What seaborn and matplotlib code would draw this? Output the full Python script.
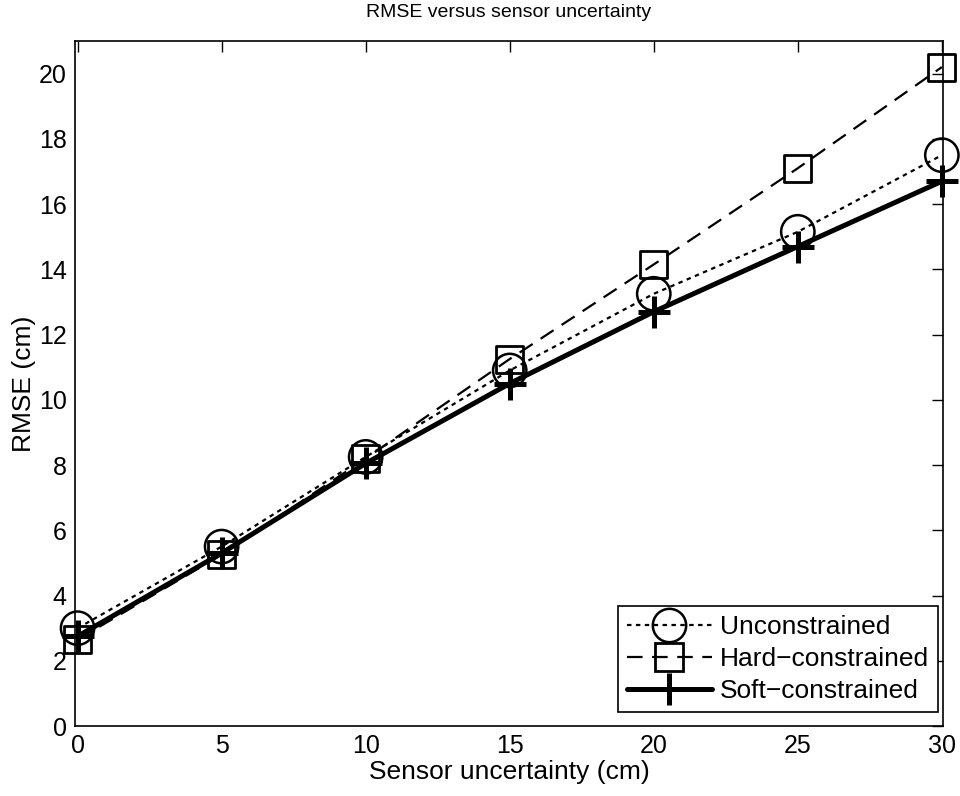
import matplotlib
matplotlib.use("Agg")
import matplotlib.pyplot as plt
from matplotlib.lines import Line2D
import seaborn as sns
import pandas as pd

sns.set_style("white")
plt.rcParams["font.family"] = ["Liberation Sans", "DejaVu Sans"]
plt.rcParams["text.color"] = "black"
plt.rcParams["axes.labelcolor"] = "black"

# Data
sensor_unc = [0, 5, 10, 15, 20, 25, 30]
rmse_unconstrained = [3.0, 5.5, 8.25, 10.9, 13.25, 15.15, 17.5]
rmse_hard = [2.65, 5.25, 8.2, 11.25, 14.15, 17.1, 20.2]
rmse_soft = [2.75, 5.3, 8.05, 10.5, 12.7, 14.7, 16.7]

df = pd.DataFrame({
    "x": sensor_unc,
    "Unconstrained": rmse_unconstrained,
    "Hard-constrained": rmse_hard,
    "Soft-constrained": rmse_soft,
})

# style per series: (label, linestyle, linewidth, marker, size, edge width)
styles = {
    "Unconstrained": ("Unconstrained", (0, (2, 2)), 1.6, "o", 24, 1.8),
    "Hard-constrained": ("Hard\u2212constrained", (0, (7, 4.3)), 1.6, "s", 19.5, 2.0),
    "Soft-constrained": ("Soft\u2212constrained", "-", 3.6, "+", 23, 3.6),
}

fig = plt.figure(figsize=(9.6, 7.96), dpi=100)
ax = fig.add_axes([0.0781, 0.0879, 0.9042, 0.8606])

handles = []
for col, (lab, ls, lw, mk, ms, mew) in styles.items():
    sns.lineplot(data=df, x="x", y=col, ax=ax, color="black",
                 linestyle=ls, linewidth=lw, legend=False)
    if mk == "+":
        sns.scatterplot(data=df, x="x", y=col, ax=ax, marker="+", s=ms ** 2,
                        color="black", linewidth=mew, legend=False,
                        clip_on=False, zorder=3)
    else:
        sns.scatterplot(data=df, x="x", y=col, ax=ax, marker=mk, s=ms ** 2,
                        facecolor="none", edgecolor="black", linewidth=mew,
                        legend=False, clip_on=False, zorder=3)
    line_h = Line2D([], [], color="black", linestyle=ls, linewidth=lw)
    mark_h = Line2D([], [], color="black", linestyle="none", marker=mk,
                    markersize=ms, markerfacecolor="none",
                    markeredgecolor="black", markeredgewidth=mew)
    handles.append(((line_h, mark_h), lab))

ax.set_xlim(-0.09, 30.04)
ax.set_ylim(0, 21)
ax.set_xticks(range(0, 31, 5))
ax.set_yticks(range(0, 21, 2))
ax.tick_params(direction="in", top=True, right=True, length=8, width=1,
               labelsize=18, colors="black", pad=6)
for s in ax.spines.values():
    s.set_color("black")
    s.set_linewidth(1.2)

ax.set_xlabel("Sensor uncertainty (cm)", fontsize=19, labelpad=1)
ax.set_ylabel("RMSE (cm)", fontsize=19, labelpad=2)
ax.set_title("RMSE versus sensor uncertainty", fontsize=14, pad=17)

leg = ax.legend([h for h, _ in handles], [l for _, l in handles],
                loc="lower right", bbox_to_anchor=(0.9942, 0.0204),
                fontsize=19, frameon=True, fancybox=False,
                edgecolor="black", handlelength=3.2, borderpad=0.35,
                labelspacing=0.3, handletextpad=0.3, borderaxespad=0,
                framealpha=1)
leg.get_frame().set_linewidth(1.2)

fig.savefig("out.png", dpi=100, facecolor="white")
